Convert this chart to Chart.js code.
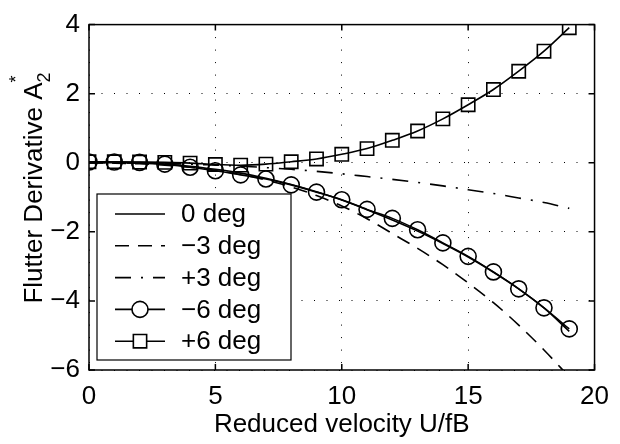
<!DOCTYPE html>
<html lang="en">
  <head>
    <meta charset="UTF-8" />
    <title>Flutter Derivative A2*</title>
    <script src="https://cdn.jsdelivr.net/npm/chart.js"></script>
    <style>
      html, body { margin: 0; padding: 0; background: #fff; }
    </style>
  </head>
  <body>
    <canvas id="a2Chart" width="620" height="444"></canvas>

    <script>
      // reduced velocity U/fB
      const velocity = [0, 1, 2, 3, 4, 5, 6, 7, 8, 9, 10, 11, 12, 13, 14, 15, 16, 17, 18, 19];

      const deg0 = [0, 0, -0.01, -0.04, -0.1, -0.19, -0.3, -0.45, -0.63, -0.84, -1.08, -1.36, -1.66, -1.98, -2.34, -2.73, -3.17, -3.65, -4.2, -4.88];
      const degMinus3 = [0, -0.01, -0.03, -0.07, -0.13, -0.22, -0.34, -0.5, -0.7, -0.95, -1.25, -1.62, -2.05, -2.48, -2.95, -3.48, -4.05, -4.7, -5.42, -6.2];
      const degPlus3 = [0, 0, -0.01, -0.02, -0.04, -0.07, -0.1, -0.14, -0.19, -0.25, -0.32, -0.4, -0.48, -0.57, -0.67, -0.78, -0.89, -1.02, -1.15, -1.32];
      const degMinus6 = [0.02, 0.02, 0.01, -0.04, -0.13, -0.23, -0.35, -0.47, -0.64, -0.85, -1.07, -1.35, -1.61, -1.94, -2.32, -2.71, -3.16, -3.65, -4.2, -4.81];
      const degPlus6 = [0.03, 0.03, 0.02, 0.01, -0.01, -0.05, -0.07, -0.04, 0.03, 0.11, 0.245, 0.41, 0.65, 0.92, 1.27, 1.68, 2.12, 2.65, 3.23, 3.91];

      const seriesLabels = ['0 deg', '\u22123 deg', '+3 deg', '\u22126 deg', '+6 deg'];

      const xTicks = [0, 5, 10, 15, 20];
      const yTicks = [-6, -4, -2, 0, 2, 4];

      const FONT = "'Liberation Sans', Arial, Helvetica, sans-serif";

      function pts(values) {
        return velocity.map((v, i) => ({ x: v, y: values[i] }));
      }

      function line(label, values, extra) {
        return Object.assign({
          label: label,
          data: pts(values),
          borderColor: '#000',
          backgroundColor: 'transparent',
          borderWidth: 1.6,
          pointRadius: 0,
          pointBorderColor: '#000',
          pointBackgroundColor: 'transparent',
          pointBorderWidth: 1.6,
          cubicInterpolationMode: 'monotone',
          fill: false,
        }, extra);
      }

      // frame + inward ticks like the matlab axes box
      const frameBox = {
        id: 'frameBox',
        afterDatasetsDraw(chart) {
          const { ctx, chartArea: a, scales } = chart;
          ctx.save();
          ctx.strokeStyle = '#000';
          ctx.lineWidth = 1.5;
          ctx.setLineDash([]);
          ctx.strokeRect(a.left, a.top, a.width, a.height);
          ctx.beginPath();
          xTicks.forEach(t => {
            const px = scales.x.getPixelForValue(t);
            ctx.moveTo(px, a.bottom); ctx.lineTo(px, a.bottom - 6);
            ctx.moveTo(px, a.top); ctx.lineTo(px, a.top + 6);
          });
          yTicks.forEach(t => {
            const py = scales.y.getPixelForValue(t);
            ctx.moveTo(a.left, py); ctx.lineTo(a.left + 6, py);
            ctx.moveTo(a.right, py); ctx.lineTo(a.right - 6, py);
          });
          ctx.stroke();

          // legend box
          const lx = a.left + 8, ly = 194, lw = 194, lh = 166;
          ctx.fillStyle = '#fff';
          ctx.fillRect(lx, ly, lw, lh);
          ctx.lineWidth = 1.2;
          ctx.strokeRect(lx, ly, lw, lh);

          chart.data.datasets.forEach((ds, i) => {
            const rowY = ly + 20 + i * 31.8;
            ctx.save();
            ctx.strokeStyle = '#000';
            ctx.lineWidth = ds.borderWidth;
            ctx.setLineDash(ds.borderDash || []);
            ctx.beginPath();
            ctx.moveTo(lx + 18, rowY);
            ctx.lineTo(lx + 68, rowY);
            ctx.stroke();
            ctx.setLineDash([]);
            if (ds.pointRadius > 0) {
              const cx = lx + 43;
              ctx.beginPath();
              if (ds.pointStyle === 'rect') {
                const s = Math.SQRT1_2 * ds.pointRadius;
                ctx.fillStyle = '#fff';
                ctx.rect(cx - s, rowY - s, 2 * s, 2 * s);
              } else {
                ctx.fillStyle = '#fff';
                ctx.arc(cx, rowY, ds.pointRadius, 0, Math.PI * 2);
              }
              ctx.fill();
              ctx.stroke();
            }
            ctx.fillStyle = '#000';
            ctx.font = '26px ' + FONT;
            ctx.textBaseline = 'middle';
            ctx.textAlign = 'left';
            ctx.fillText(ds.label, lx + 84, rowY + 1);
            ctx.restore();
          });
          ctx.restore();
        },
      };

      // y title with the subscript 2 and the star
      const yTitle = {
        id: 'yTitle',
        afterDraw(chart) {
          const { ctx } = chart;
          const main = 'Flutter Derivative A';
          ctx.save();
          ctx.fillStyle = '#000';
          ctx.font = '26px ' + FONT;
          const wMain = ctx.measureText(main).width;
          ctx.font = '18px ' + FONT;
          const wSub = ctx.measureText('2').width;
          const total = wMain + wSub;
          const cy = 188;
          ctx.translate(42, cy);
          ctx.rotate(-Math.PI / 2);
          ctx.textBaseline = 'alphabetic';
          ctx.textAlign = 'left';
          const x0 = -total / 2;
          ctx.font = '26px ' + FONT;
          ctx.fillText(main, x0, 0);
          ctx.font = '18px ' + FONT;
          ctx.fillText('2', x0 + wMain, 8);
          ctx.fillText('*', x0 + wMain, -20);
          ctx.restore();
        },
      };

      Chart.defaults.font.family = FONT;
      Chart.defaults.font.size = 26;
      Chart.defaults.color = '#000';

      const ctx = document.getElementById('a2Chart').getContext('2d');
      new Chart(ctx, {
        type: 'line',
        data: {
          datasets: [
            line(seriesLabels[0], deg0, {}),
            line(seriesLabels[1], degMinus3, { borderDash: [14, 9] }),
            line(seriesLabels[2], degPlus3, { borderDash: [16, 10, 2, 10] }),
            line(seriesLabels[3], degMinus6, { pointRadius: 8, pointStyle: 'circle' }),
            line(seriesLabels[4], degPlus6, { pointRadius: 9.4, pointStyle: 'rect' }),
          ],
        },
        options: {
          responsive: false,
          animation: false,
          layout: { padding: { left: 0, right: 16, top: 15, bottom: 0 } },
          plugins: {
            legend: { display: false },
            tooltip: { enabled: false },
          },
          scales: {
            x: {
              type: 'linear',
              min: 0,
              max: 20,
              afterBuildTicks: s => { s.ticks = xTicks.map(v => ({ value: v })); },
              afterFit: s => { s.height = 74; },
              ticks: { padding: 11, maxRotation: 0, font: { size: 26 } },
              grid: { color: '#000', lineWidth: 1, drawTicks: false },
              border: { display: false, dash: [1, 11.5] },
              title: { display: true, text: 'Reduced velocity U/fB', padding: { top: 0, bottom: 4 }, font: { size: 26 } },
            },
            y: {
              min: -6,
              max: 4,
              afterBuildTicks: s => { s.ticks = yTicks.map(v => ({ value: v })); },
              afterFit: s => { s.width = 89; },
              ticks: {
                padding: 9,
                font: { size: 26 },
                callback: v => (v < 0 ? '\u2212' + Math.abs(v) : String(v)),
              },
              grid: { color: '#000', lineWidth: 1, drawTicks: false },
              border: { display: false, dash: [1, 11.5] },
            },
          },
        },
        plugins: [frameBox, yTitle],
      });
    </script>
  </body>
</html>
